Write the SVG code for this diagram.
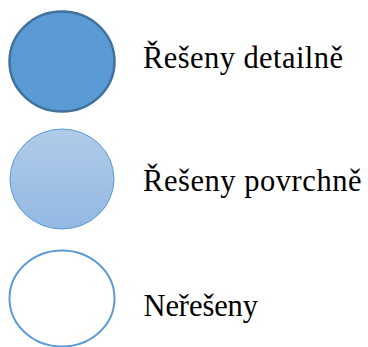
<svg xmlns="http://www.w3.org/2000/svg" width="368" height="347" viewBox="0 0 368 347">
  <style>
    .label { font-family: "Liberation Serif", "Times New Roman", serif; font-size: 30.5px; fill: #000000; }
  </style>
  <defs>
    <linearGradient id="lightFill" x1="0" y1="0" x2="0" y2="1">
      <stop offset="0" stop-color="#B1CBE9"/>
      <stop offset="1" stop-color="#92B9E3"/>
    </linearGradient>
  </defs>
  <rect width="368" height="347" fill="#ffffff"/>
  <g id="detailed">
    <ellipse cx="62" cy="61.5" rx="52.5" ry="50" fill="#5B9BD5" stroke="#41719C" stroke-width="2.5"/>
    <text class="label" x="143" y="68.3" textLength="200" lengthAdjust="spacing">Řešeny detailně</text>
  </g>
  <g id="surface">
    <ellipse cx="62" cy="179" rx="52" ry="50" fill="url(#lightFill)" stroke="#5B9BD5" stroke-width="1"/>
    <text class="label" x="143" y="190.5" textLength="218.5" lengthAdjust="spacing">Řešeny povrchně</text>
  </g>
  <g id="unsolved">
    <ellipse cx="62" cy="298.5" rx="52.5" ry="48" fill="#ffffff" stroke="#5B9BD5" stroke-width="2"/>
    <text class="label" x="143.5" y="315.7" textLength="114.5" lengthAdjust="spacing">Neřešeny</text>
  </g>
</svg>
